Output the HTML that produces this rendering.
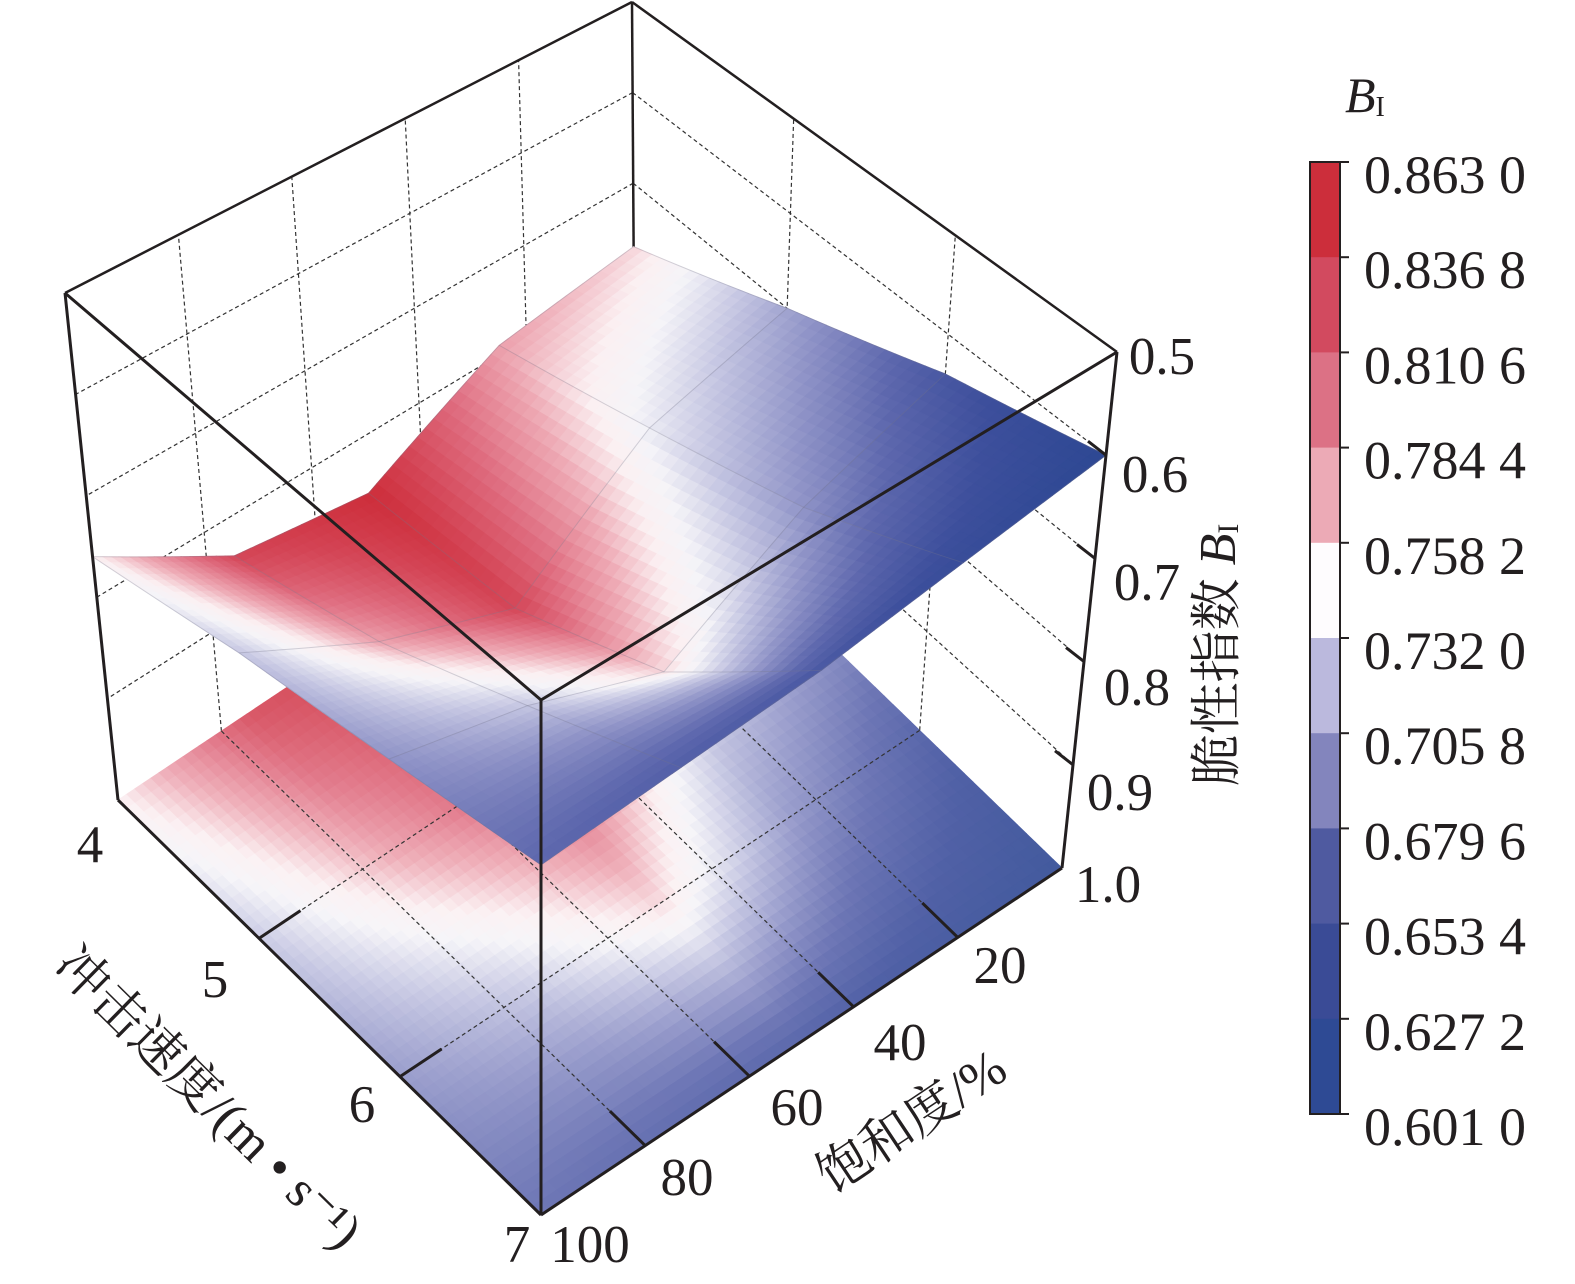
<!DOCTYPE html>
<html><head><meta charset="utf-8">
<style>
html,body{margin:0;padding:0;background:#fff;}
svg{display:block;}
text{font-family:"Liberation Serif","Noto Serif CJK SC",serif;fill:#231f20;}
</style></head>
<body>
<svg id="chart" width="1575" height="1284" viewBox="0 0 1575 1284" xmlns="http://www.w3.org/2000/svg">
<g id="back"></g>
<g id="floor"></g>
<g id="floorgrid"></g>
<g id="surf"></g>
<g id="front"></g>
<g id="labels"></g>
<g id="cbar"></g>
</svg>
<script>
// ---- data ----
const saturation = [0, 25, 50, 75, 100];          // %
const speeds = [4, 5, 6, 7];                       // m/s
const bi_v4 = [0.77, 0.79, 0.86, 0.84, 0.76];
const bi_v5 = [0.70, 0.74, 0.84, 0.79, 0.72];
const bi_v6 = [0.64, 0.69, 0.77, 0.72, 0.69];
const bi_v7 = [0.60, 0.62, 0.64, 0.65, 0.66];
const satTicks = [20, 40, 60, 80, 100];
const speedTicks = [4, 5, 6, 7];
const zTicks = [0.5, 0.6, 0.7, 0.8, 0.9, 1.0];
const cbarTicks = ["0.863 0","0.836 8","0.810 6","0.784 4","0.758 2","0.732 0","0.705 8","0.679 6","0.653 4","0.627 2","0.601 0"];
const cbarColors = ["#cc2e3b","#d24a5f","#dc7185","#ecaab6","#fefcfe","#bbb9dd","#8385bd","#4f5aa0","#3a4b96","#2e4a94"];
const grid = [bi_v4, bi_v5, bi_v6, bi_v7];

const NS = "http://www.w3.org/2000/svg";
const B = {"00":[635,455],"10":[118,800],"01":[1062,868],"11":[541,1215]};
const T = {"00":[632,2],"10":[65,293],"01":[1117,352],"11":[541,700]};
function bil(C,u,w){
  return [0,1].map(k=>(1-u)*(1-w)*C["00"][k]+u*(1-w)*C["10"][k]+(1-u)*w*C["01"][k]+u*w*C["11"][k]);
}
function proj(s,v,z){
  const u=s/100, w=(v-4)/3, t=(1.0-z)/0.5;
  const b=bil(B,u,w), tp=bil(T,u,w);
  return [b[0]+(tp[0]-b[0])*t, b[1]+(tp[1]-b[1])*t];
}
const stops=[[0.601,[46,72,147]],[0.63,[61,79,156]],[0.66,[93,103,173]],[0.69,[143,147,199]],[0.72,[197,198,226]],[0.745,[245,244,248]],[0.76,[251,240,242]],[0.785,[238,170,181]],[0.815,[223,109,128]],[0.84,[212,69,86]],[0.863,[204,42,54]]];
function col(z,light){
  z=Math.max(0.601,Math.min(0.863,z));
  let i=0; while(i<stops.length-2 && z>stops[i+1][0]) i++;
  const a=stops[i],b=stops[i+1],f=(z-a[0])/(b[0]-a[0]);
  let c=a[1].map((x,k)=>x+(b[1][k]-x)*f);
  if(light) c=c.map(x=>x+(255-x)*light);
  return "rgb("+c.map(Math.round).join(",")+")";
}
function val(s,v){
  let i=0; while(i<saturation.length-2 && s>saturation[i+1]) i++;
  let j=0; while(j<speeds.length-2 && v>speeds[j+1]) j++;
  const fs=(s-saturation[i])/(saturation[i+1]-saturation[i]);
  const fv=(v-speeds[j])/(speeds[j+1]-speeds[j]);
  const a=grid[j][i],b=grid[j][i+1],c=grid[j+1][i],d=grid[j+1][i+1];
  return (1-fv)*((1-fs)*a+fs*b)+fv*((1-fs)*c+fs*d);
}
function mk(tag,attrs,parent){const e=document.createElementNS(NS,tag);for(const k in attrs)e.setAttribute(k,attrs[k]);parent.appendChild(e);return e;}
function line(p,q,parent,st){return mk("line",Object.assign({x1:p[0],y1:p[1],x2:q[0],y2:q[1]},st),parent);}
const gBack=document.getElementById("back"),gFloor=document.getElementById("floor"),gFG=document.getElementById("floorgrid"),gSurf=document.getElementById("surf"),gFront=document.getElementById("front"),gLab=document.getElementById("labels"),gC=document.getElementById("cbar");
const dash={stroke:"#333","stroke-width":1.2,"stroke-dasharray":"4 3",fill:"none"};
const solid={stroke:"#231f20","stroke-width":3,fill:"none"};

for(const s of [20,40,60,80]){const l=line(proj(s,4,1.0),proj(s,4,0.5),gBack,dash);

}
for(const v of [5,6]){const l=line(proj(0,v,1.0),proj(0,v,0.5),gBack,dash);

}
for(const z of [0.6,0.7,0.8,0.9]){
  let l=line(proj(0,4,z),proj(100,4,z),gBack,dash);
  
  
  l=line(proj(0,4,z),proj(0,7,z),gBack,dash);
  
  
}
[[proj(100,4,0.5),proj(0,4,0.5)],[proj(0,4,0.5),proj(0,7,0.5)],[proj(0,4,0.5),proj(0,4,1.0)]].forEach(p=>{const l=line(p[0],p[1],gBack,{stroke:"#231f20","stroke-width":2.5});

});

const N=16;
const quads=[];
for(let i=0;i<saturation.length-1;i++)for(let j=0;j<speeds.length-1;j++)
 for(let a=0;a<N;a++)for(let b=0;b<N;b++){
   const s0=saturation[i]+(saturation[i+1]-saturation[i])*a/N, s1=saturation[i]+(saturation[i+1]-saturation[i])*(a+1)/N;
   const v0=speeds[j]+(speeds[j+1]-speeds[j])*b/N, v1=speeds[j]+(speeds[j+1]-speeds[j])*(b+1)/N;
   quads.push([s0,s1,v0,v1]);
 }
quads.sort((p,q)=>(p[0]/100+(p[2]-4)/3)-(q[0]/100+(q[2]-4)/3));
for(const q of quads){
  const [s0,s1,v0,v1]=q;
  const zc=val((s0+s1)/2,(v0+v1)/2);
  const cf=col(zc,0.1);
  const pf=[proj(s0,v0,1),proj(s1,v0,1),proj(s1,v1,1),proj(s0,v1,1)];
  const f=mk("polygon",{points:pf.map(p=>p.join(",")).join(" "),fill:cf,stroke:cf,"stroke-width":0.8},gFloor);
  
  
  const ps=[proj(s0,v0,val(s0,v0)),proj(s1,v0,val(s1,v0)),proj(s1,v1,val(s1,v1)),proj(s0,v1,val(s0,v1))];
  const c=col(zc,0);
  const p=mk("polygon",{points:ps.map(p=>p.join(",")).join(" "),fill:c,stroke:c,"stroke-width":0.8},gSurf);
  
  
}
for(let i=0;i<saturation.length;i++){
  const pts=[];for(let k=0;k<=30;k++){const v=4+3*k/30;pts.push(proj(saturation[i],v,val(saturation[i],v)));}
  const pl=mk("polyline",{points:pts.map(p=>p.join(",")).join(" "),fill:"none",stroke:"rgba(120,120,140,0.3)","stroke-width":1},gSurf);
  
  
}
for(let j=0;j<speeds.length;j++){
  const pts=[];for(let k=0;k<=40;k++){const s=100*k/40;pts.push(proj(s,speeds[j],val(s,speeds[j])));}
  const pl=mk("polyline",{points:pts.map(p=>p.join(",")).join(" "),fill:"none",stroke:"rgba(120,120,140,0.3)","stroke-width":1},gSurf);
  
  
}
for(const s of [20,40,60,80]){const l=line(proj(s,4,1),proj(s,7,1),gFG,dash);

}
for(const v of [5,6]){const l=line(proj(0,v,1),proj(100,v,1),gFG,dash);

}

[[proj(100,4,0.5),proj(100,7,0.5)],[proj(100,7,0.5),proj(0,7,0.5)],[proj(100,7,0.5),proj(100,7,1)],
 [proj(100,4,0.5),proj(100,4,1)],[proj(0,7,0.5),proj(0,7,1)],[proj(100,4,1),proj(100,7,1)],[proj(100,7,1),proj(0,7,1)]].forEach(p=>{
 const l=line(p[0],p[1],gFront,solid);
 
 });
for(const z of zTicks.slice(1,5)){const p=proj(0,7,z),q=[p[0]-18,p[1]-14];
 const l=line(p,q,gFront,{stroke:"#231f20","stroke-width":3});
 
 }
for(const v of [5,6]){const p=proj(100,v,1),q=proj(92,v,1);
 const l=line(p,q,gFront,{stroke:"#231f20","stroke-width":3});
 
 }
for(const s of [20,40,60,80]){const p=proj(s,7,1),q=proj(s,6.75,1);
 const l=line(p,q,gFront,{stroke:"#231f20","stroke-width":3});
 
 }

function txt(str,x,y,size,parent,name,rot,anchor){
  const t=mk("text",{x:x,y:y,"font-size":size,"text-anchor":anchor||"middle","dominant-baseline":"central"},parent);
  if(rot)t.setAttribute("transform","rotate("+rot+" "+x+" "+y+")");
  t.textContent=str;
  
  
  return t;
}
const zPos=[[1162,357],[1155,475],[1147,583],[1137,688],[1120,793],[1108,885]];
zTicks.forEach((z,i)=>txt(z.toFixed(1),zPos[i][0],zPos[i][1],53,gLab,"z-tick-label"));
const spPos=[[90,845],[215,980],[362,1105],[517,1245]];
speedTicks.forEach((v,i)=>txt(String(v),spPos[i][0],spPos[i][1],53,gLab,"speed-tick-label"));
const saPos=[[1000,966],[900,1043],[797,1108],[687,1178],[590,1245]];
satTicks.forEach((s,i)=>txt(String(s),saPos[i][0],saPos[i][1],53,gLab,"saturation-tick-label"));
txt("冲击速度/(m • s⁻¹)",208,1098,52,gLab,"speed-axis-title",44.5);
txt("饱和度/%",912,1122,52,gLab,"saturation-axis-title",-33.7);
const zt=mk("text",{x:1218,y:655,"font-size":52,"text-anchor":"middle","dominant-baseline":"central",transform:"rotate(-90 1218 655)"},gLab);


zt.innerHTML='脆性指数 <tspan font-style="italic">B</tspan><tspan font-size="30" dy="10">I</tspan>';

const cTop=162,cBot=1114,cx=1310,cw=30,step=(cBot-cTop)/cbarColors.length;
cbarColors.forEach((c,i)=>{const r=mk("rect",{x:cx,y:cTop+i*step,width:cw,height:step+0.5,fill:c},gC);
 
 });
const fr=mk("rect",{x:cx,y:cTop,width:cw,height:cBot-cTop,fill:"none",stroke:"#231f20","stroke-width":2},gC);


cbarTicks.forEach((t,i)=>{const y=cTop+i*step;
 const l=line([cx+cw,y],[cx+cw+9,y],gC,{stroke:"#231f20","stroke-width":2});
 
 
 txt(t,1364,y+13,54,gC,"colorbar-tick-label",0,"start");});
const ct=mk("text",{x:1345,y:95,"font-size":50,"dominant-baseline":"central"},gC);


ct.innerHTML='<tspan font-style="italic">B</tspan><tspan font-size="28" dy="12">I</tspan>';
</script>
</body></html>
